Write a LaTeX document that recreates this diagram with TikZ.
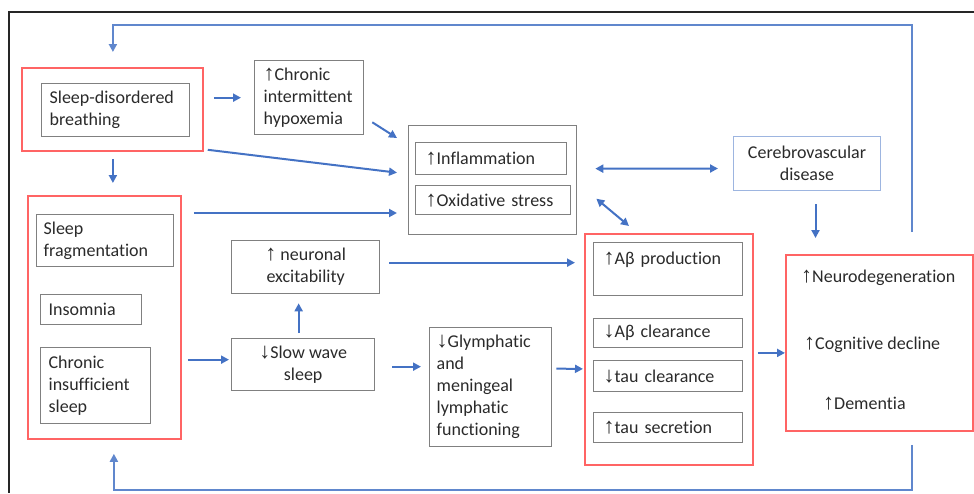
\documentclass[tikz,border=0pt]{standalone}
\usepackage{fontspec}
\setmainfont{Carlito}[Ligatures=NoCommon]
\newfontfamily\arrfont{Liberation Sans}
\newcommand{\UpA}{{\arrfont\fontsize{22}{22}\selectfont ↑}}
\newcommand{\DnA}{{\arrfont\fontsize{22}{22}\selectfont ↓}}
\usetikzlibrary{arrows.meta,calc}
\definecolor{arrblue}{HTML}{4472C4}
\definecolor{boxred}{HTML}{FF6464}
\definecolor{boxgray}{HTML}{808080}
\definecolor{cvblue}{HTML}{9DB5E0}
\definecolor{txt}{HTML}{2A2A2A}
\begin{document}
\begin{tikzpicture}[x=1pt,y=-1pt,
  font=\fontsize{18}{22}\selectfont, text=txt,
  gbox/.style={draw=boxgray, line width=1.3pt, anchor=north west, inner ysep=0pt},
  rbox/.style={draw=boxred, line width=1.8pt, anchor=north west, inner sep=0pt},
  cbox/.style={draw=cvblue, line width=1pt, anchor=north west, inner ysep=0pt, align=center},
  lbl/.style={anchor=west, inner sep=0pt},
  arr/.style={draw=arrblue, line width=2pt, -{Triangle[length=8pt,width=8pt]}},
  darr/.style={draw=arrblue, line width=2pt, {Triangle[length=8pt,width=8pt]}-{Triangle[length=8pt,width=8pt]}},
  loop/.style={draw=arrblue!85, line width=2.5pt, -{Triangle[length=8pt,width=8pt]}},
  loopl/.style={draw=arrblue!85, line width=2.5pt}]
\useasboundingbox (0,0) rectangle (974,493);
% frame
\coordinate (ftr) at (974,12);
\coordinate (ftl) at (9,12);
\coordinate (fbl) at (9,493);
\draw[line width=1.5pt, black!85] (ftr) -- (ftl) -- (fbl);

% Sleep-disordered breathing
\node[rbox, minimum width=181pt, minimum height=83pt] (sdbR) at (21,67) {};
\node[gbox, minimum width=148pt, minimum height=53pt, inner xsep=8pt, text width=132pt, align=left] (sdb) at (41,83) {Sleep-disordered\\breathing};
% hypoxemia
\node[gbox, minimum width=109pt, minimum height=74pt, inner xsep=9pt, text width=91pt, align=left] (hyp) at (254,60) {\UpA Chronic\\intermittent\\hypoxemia};
% sleep group
\node[rbox, minimum width=153pt, minimum height=243pt] (sleepR) at (27,195) {};
\node[gbox, minimum width=137pt, minimum height=52pt, inner xsep=7pt, text width=123pt, align=left] (frag) at (36,214) {Sleep\\fragmentation};
\node[gbox, minimum width=101pt, minimum height=30pt, inner xsep=8pt, text width=85pt, align=left] (ins) at (40,294) {Insomnia};
\node[gbox, minimum width=110pt, minimum height=76pt, inner xsep=8pt, text width=94pt, align=left] (chr) at (40,347) {Chronic\\insufficient\\sleep};
% inflammation group
\node[gbox, minimum width=168pt, minimum height=109pt, inner sep=0pt] (inf) at (408,125) {};
\node[gbox, minimum width=151pt, minimum height=32pt, inner xsep=10pt, text width=131pt, align=left] (infl) at (415,142) {\UpA Inflammation};
\node[gbox, minimum width=155pt, minimum height=29pt, inner xsep=10pt, text width=135pt, align=left] (ox) at (415,185) {\UpA Oxidative stress};
% cerebrovascular
\node[cbox, minimum width=147pt, minimum height=54pt] (cv) at (733,136) {Cerebrovascular\\disease};
% neuronal excitability
\node[gbox, minimum width=148pt, minimum height=53pt, align=center] (neu) at (231,240) {\UpA{} neuronal\\excitability};
% slow wave sleep
\node[gbox, minimum width=143pt, minimum height=52pt, align=center] (sws) at (231,338) {\DnA Slow wave\\sleep};
% glymphatic
\node[gbox, minimum width=122pt, minimum height=119pt, inner xsep=7pt, text width=108pt, align=left] (gly) at (429,327) {\DnA Glymphatic\\and\\meningeal\\lymphatic\\functioning};
% amyloid/tau group
\node[rbox, minimum width=168pt, minimum height=231pt] (abR) at (584,233) {};
\node[gbox, minimum width=149pt, minimum height=53pt, inner xsep=10pt, text width=129pt, align=left] (abp) at (593,242) {\UpA Aβ production\\~};
\node[gbox, minimum width=149pt, minimum height=29pt, inner xsep=10pt, text width=129pt, align=left] (abc) at (593,318) {\DnA Aβ clearance};
\node[gbox, minimum width=149pt, minimum height=31pt, inner xsep=10pt, text width=129pt, align=left] (tauc) at (593,360) {\DnA tau clearance};
\node[gbox, minimum width=149pt, minimum height=30pt, inner xsep=10pt, text width=129pt, align=left] (taus) at (593,412) {\UpA tau secretion};
% outcomes
\node[rbox, minimum width=187pt, minimum height=176pt] (neuroR) at (785,254) {};
\node[lbl] (nd) at (801,278) {\UpA Neurodegeneration};
\node[lbl] (cd) at (804,345) {\UpA Cognitive decline};
\node[lbl] (dm) at (823,404) {\UpA Dementia};

% connectors
\draw[arr, shorten <=10pt, shorten >=13pt] (sdbR.east |- hyp.west) -- (hyp.west);
\draw[arr] ($(hyp.south east)+(8,-13)$) -- ($(inf.north west)+(-11,13)$);
\draw[arr] ($(sdbR.south east)+(4,-2)$) -- ($(inf.west)+(-11,-7.5)$);
\draw[arr, shorten <=7pt, shorten >=12pt] ($(sdbR.south)+(0.5,0)$) -- ($(sdbR.south |- sleepR.north)+(0.5,0)$);
\draw[arr] ($(sleepR.north east)+(12,18)$) -- ($(inf.west |- sleepR.north east)+(-11,18)$);
\draw[darr] ($(inf.east)+(18,-11.5)$) -- ($(cv.west)+(-15,5)$);
\draw[darr] ($(ox.east)+(25,-1.5)$) -- ($(abR.north west)+(45,-7)$);
\draw[arr, shorten <=13pt, shorten >=16pt] ($(cv.south)+(8.5,0)$) -- ($(cv.south |- neuroR.north)+(8.5,0)$);
\draw[arr] ($(neu.east)+(9,-4.5)$) -- ($(abR.west |- neu.east)+(-9,-4.5)$);
\draw[arr, shorten <=5pt, shorten >=9pt] ($(sws.north)+(-4.5,0)$) -- ($(sws.north |- neu.south)+(-4.5,0)$);
\draw[arr] ($(sleepR.east |- sws.west)+(6,-5)$) -- ($(sws.west)+(-2,-5)$);
\draw[arr] ($(sws.east)+(17,2)$) -- ($(gly.west)+(-8,-20.5)$);
\draw[arr] ($(gly.east)+(4,-18.5)$) -- ($(abR.west)+(-1,19.5)$);
\draw[arr] ($(abR.east)+(4,3.5)$) -- ($(neuroR.west)+(0,10)$);
% feedback loops
\draw[loop] ($(neuroR.north)+(32.5,-22)$) |- ($(sdbR.north)+(0.5,-42)$) -- ($(sdbR.north)+(0.5,-15)$);
\draw[loop] ($(neuroR.south)+(32.5,13)$) |- ($(sleepR.south)+(9.5,50)$) -- ($(sleepR.south)+(9.5,14)$);
\end{tikzpicture}
\end{document}
